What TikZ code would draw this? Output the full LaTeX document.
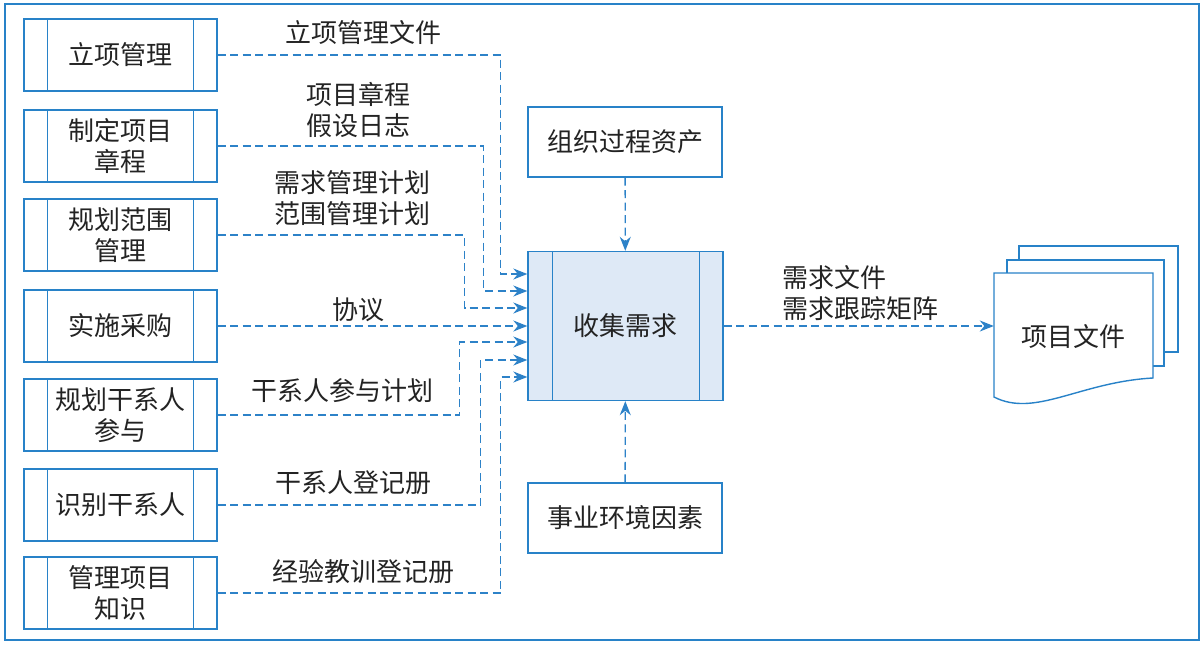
\documentclass[tikz,border=0pt]{standalone}
\usepackage{fontspec}
\setmainfont{Noto Sans CJK SC}
\usetikzlibrary{arrows.meta,calc}

\begin{document}
\begin{tikzpicture}[x=1pt,y=-1pt,
    every node/.style={font=\fontsize{26}{31}\selectfont, text=textgray},
    procbox/.style={draw=lineblue, line width=1.4pt, minimum width=193pt, minimum height=72pt, align=center, inner sep=0pt},
    plainbox/.style={draw=lineblue, line width=1.4pt, minimum width=194pt, minimum height=70pt, inner sep=0pt},
    boxline/.style={draw=lineblue, line width=1.4pt},
    flow/.style={draw=dashblue, line width=1.3pt, dash pattern=on 8pt off 4.5pt, -{Stealth[length=14pt,width=11pt]}},
    lbl/.style={align=center, inner sep=0pt}]

        % Define colors
        \definecolor{lineblue}{RGB}{40,130,200}   % box outlines
        \definecolor{dashblue}{RGB}{45,130,200}   % dashed flows
        \definecolor{fillblue}{RGB}{222,233,246}  % centre process
        \definecolor{textgray}{RGB}{35,35,35}     % labels

        % Fix page size
        \useasboundingbox (0,0) rectangle (1203,645);

        % Outer frame
        \draw[lineblue, line width=1.6pt] (5,4) rectangle (1199,640);

        % Input processes on the left
        \foreach \name/\y/\txt in {b1/55/立项管理, b2/146/制定项目\\章程, b3/235/规划范围\\管理,
                                   b4/326/实施采购, b5/415/规划干系人\\参与, b6/505/识别干系人,
                                   b7/593/管理项目\\知识}
          \node[procbox] (\name) at (120.5,\y) {\txt};
        \foreach \n in {b1,b2,b3,b4,b5,b6,b7} {
          \draw[boxline] ($(\n.north west)+(24,0)$) -- ($(\n.south west)+(24,0)$);
          \draw[boxline] ($(\n.north east)+(-24,0)$) -- ($(\n.south east)+(-24,0)$);
        }

        % Central process
        \node[draw=lineblue, line width=1.4pt, fill=fillblue, minimum width=195pt, minimum height=149pt] (c) at (625.5,326) {收集需求};
        \draw[boxline] ($(c.north west)+(25,0)$) -- ($(c.south west)+(25,0)$);
        \draw[boxline] ($(c.north east)+(-24,0)$) -- ($(c.south east)+(-24,0)$);

        % Top and bottom inputs
        \node[plainbox] (opa) at (625,142) {组织过程资产};
        \node[plainbox] (eef) at (625,518) {事业环境因素};

        % Output document stack
        \filldraw[lineblue, fill=white, line width=1.4pt] (1019,246) rectangle (1178,352);
        \filldraw[lineblue, fill=white, line width=1.4pt] (1007,260) rectangle (1164,366);
        \filldraw[lineblue, fill=white, line width=1.4pt] (994,273) -- (1153,273) -- (1153,378)
            .. controls (1080,382) and (1035,418) .. (994,397) -- cycle;
        \node[minimum width=159pt, inner sep=0pt] (doc) at (1073.5,337) {项目文件};

        % Flows into the central process
        \draw[flow] (b1.east) -- ++(283,0) |- ([yshift=52pt]c.west);
        \draw[flow] (b2.east) -- ++(266,0) |- ([yshift=35pt]c.west);
        \draw[flow] (b3.east) -- ++(247,0) |- ([yshift=18pt]c.west);
        \draw[flow] (b4.east) -- (b4.east -| c.west);
        \draw[flow] (b5.east) -- ++(242,0) |- ([yshift=-16pt]c.west);
        \draw[flow] (b6.east) -- ++(263,0) |- ([yshift=-34pt]c.west);
        \draw[flow] (b7.east) -- ++(283,0) |- ([yshift=-51pt]c.west);
        \draw[flow] (opa) -- (c);
        \draw[flow] (eef) -- (c);
        \draw[flow] (c.east) -- (c.east -| doc.west);

        % Flow labels
        \node[lbl] (l1) at (363,33) {立项管理文件};
        \node[lbl] (l2) at (358,110) {项目章程\\假设日志};
        \node[lbl] (l3) at (352,198) {需求管理计划\\范围管理计划};
        \node[lbl] (l4) at (358,310) {协议};
        \node[lbl] (l5) at (342,391) {干系人参与计划};
        \node[lbl] (l6) at (353,483) {干系人登记册};
        \node[lbl] (l7) at (363,572) {经验教训登记册};
        \node[lbl, anchor=west, align=left] (lout) at (782,293) {需求文件\\需求跟踪矩阵};
\end{tikzpicture}
\end{document}
